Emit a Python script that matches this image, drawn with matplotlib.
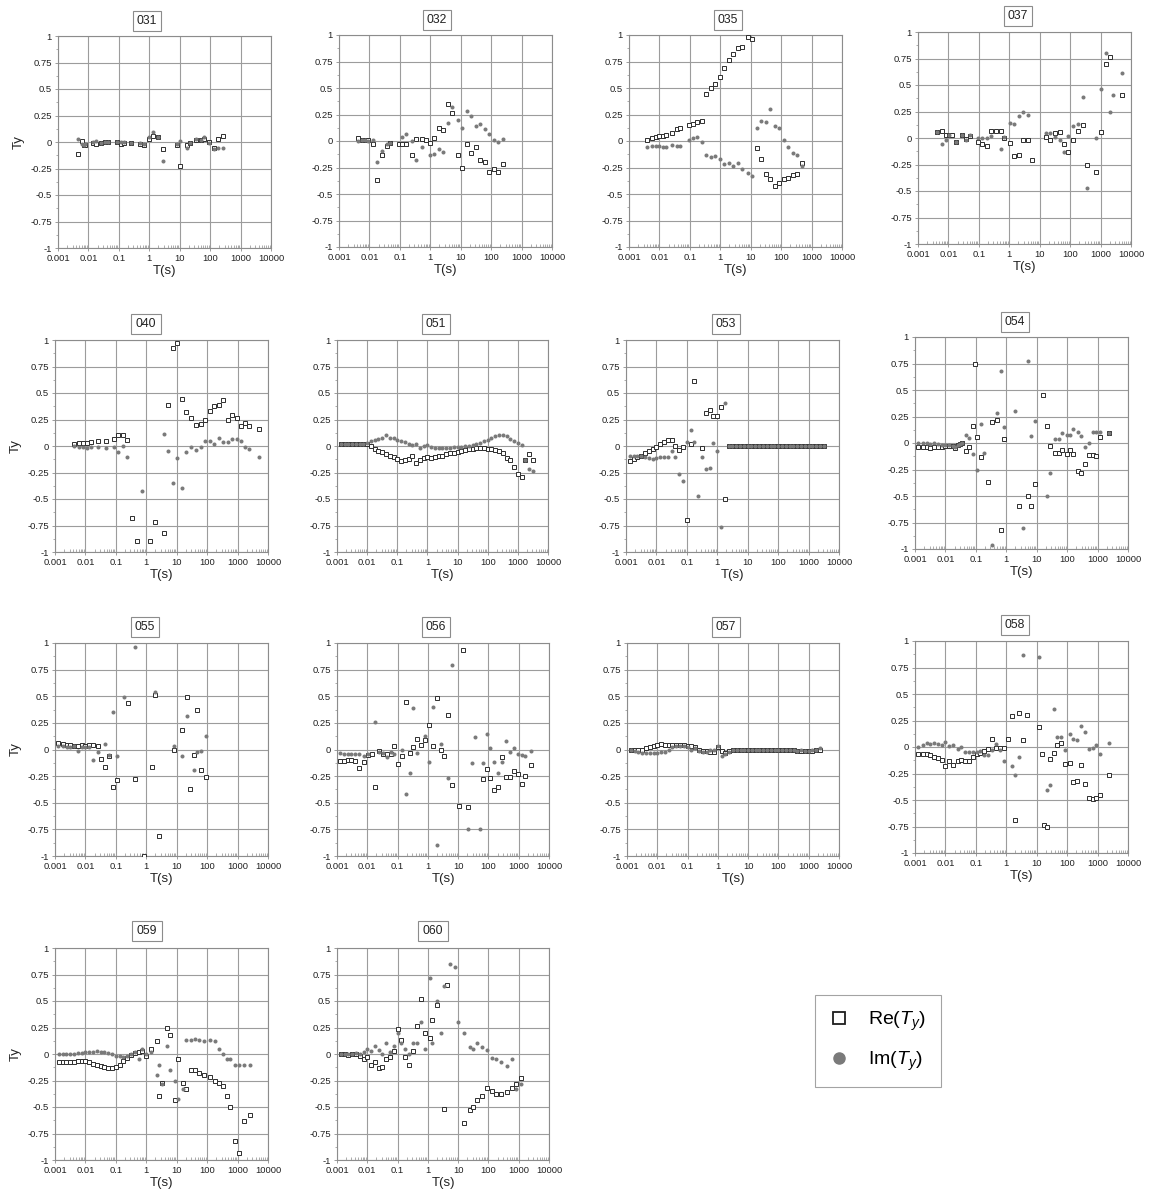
import numpy as np
import matplotlib
matplotlib.use('Agg')
import matplotlib.pyplot as plt
from matplotlib.lines import Line2D
from matplotlib.ticker import FixedLocator, LogLocator, NullFormatter, FuncFormatter

plt.rcParams['font.family'] = ['Liberation Sans', 'DejaVu Sans']
plt.rcParams['axes.unicode_minus'] = False
plt.rcParams['mathtext.fontset'] = 'custom'
plt.rcParams['mathtext.rm'] = 'Liberation Sans'
plt.rcParams['mathtext.it'] = 'Liberation Sans:italic'

nan = np.nan
W, H = 1151, 1196

# periods (s) used by the long-period stations, 8 per decade
T_DENSE = [0.00133, 0.00178, 0.00237, 0.00316, 0.00422, 0.00562, 0.0075,
           0.01, 0.0133, 0.0178, 0.0237, 0.0316, 0.0422, 0.0562, 0.075,
           0.1, 0.133, 0.178, 0.237, 0.316, 0.422, 0.562, 0.75,
           1.0, 1.33, 1.78, 2.37, 3.16, 4.22, 5.62, 7.5,
           10, 13.3, 17.8, 23.7, 31.6, 42.2, 56.2, 75,
           100, 133, 178, 237, 316, 422, 562, 750,
           1000, 1330, 1780, 2370, 3160]

# station 031
T031 = [0.0045, 0.006, 0.007, 0.008, 0.014, 0.018, 0.025, 0.035, 0.045, 0.09,
        0.12, 0.15, 0.25, 0.5, 0.65, 1.0, 1.3, 2.0, 2.8, 8,
        10.5, 17, 22, 35, 50, 65, 90, 130, 175, 260]
RE031 = [-0.11, 0.01, -0.03, -0.03, -0.01, -0.02, -0.01, 0.0, 0.0, 0.0,
         -0.02, -0.01, -0.01, -0.02, -0.03, 0.03, 0.06, 0.05, -0.07, -0.03,
         -0.23, -0.03, -0.01, 0.02, 0.02, 0.03, 0.0, -0.06, 0.03, 0.06]
IM031 = [0.03, -0.02, -0.03, -0.02, 0.0, 0.01, -0.01, 0.0, 0.0, 0.0,
         0.0, 0.0, -0.01, -0.01, -0.02, 0.05, 0.09, 0.05, -0.18, -0.02,
         0.01, -0.06, -0.01, 0.03, 0.02, 0.05, -0.01, -0.07, -0.06, -0.06]

# station 032
T032 = [0.0042, 0.0055, 0.007, 0.009, 0.013, 0.018, 0.026, 0.039, 0.047, 0.092,
        0.12, 0.16, 0.25, 0.34, 0.52, 0.7, 0.98, 1.33, 1.9, 2.7,
        3.9, 5.3, 7.9, 10.7, 15.7, 21, 31.5, 42, 63, 85,
        125, 170, 250]
RE032 = [0.03, 0.01, 0.01, 0.01, -0.03, -0.37, -0.13, -0.05, -0.02, -0.03,
         -0.03, -0.03, -0.13, 0.02, 0.02, 0.01, -0.02, 0.03, 0.12, 0.1,
         0.35, 0.26, -0.13, -0.25, -0.03, -0.11, -0.06, -0.18, -0.2, -0.29,
         -0.26, -0.29, -0.22]
IM032 = [0.0, 0.01, 0.01, 0.0, 0.01, -0.2, -0.09, -0.03, -0.02, nan,
         0.04, 0.07, 0.0, -0.18, -0.06, nan, -0.13, -0.12, -0.08, -0.1,
         0.17, 0.32, 0.2, 0.12, 0.28, 0.24, 0.14, 0.16, 0.11, 0.07,
         0.01, -0.01, 0.02]

# station 035
T035 = [0.004, 0.0055, 0.0075, 0.01, 0.013, 0.017, 0.025, 0.038, 0.047, 0.092,
        0.13, 0.17, 0.25, 0.34, 0.48, 0.67, 0.98, 1.3, 1.9, 2.7,
        3.9, 5.3, 7.9, 10.7, 15.7, 21, 31.5, 42, 63, 85,
        125, 170, 250, 330, 500]
RE035 = [0.01, 0.03, 0.04, 0.05, 0.05, 0.06, 0.08, 0.11, 0.12, 0.15,
         0.16, 0.18, 0.19, 0.44, 0.5, 0.54, 0.6, 0.69, 0.76, 0.82,
         0.88, 0.89, 0.98, 0.96, -0.07, -0.17, -0.31, -0.36, -0.42, -0.4,
         -0.36, -0.35, -0.32, -0.31, -0.21]
IM035 = [-0.06, -0.05, -0.05, -0.05, -0.06, -0.06, -0.04, -0.05, -0.05, 0.01,
         0.03, 0.04, -0.01, -0.13, -0.15, -0.14, -0.17, -0.22, -0.21, -0.24,
         -0.21, -0.26, -0.3, -0.33, 0.12, 0.19, 0.18, 0.3, 0.14, 0.12,
         0.01, -0.06, -0.11, -0.13, -0.24]

# station 037
T037 = [0.0042, 0.0062, 0.0086, 0.0105, 0.0135, 0.018, 0.027, 0.039, 0.05, 0.095,
        0.13, 0.18, 0.25, 0.36, 0.53, 0.68, 1.05, 1.4, 2.1, 2.75,
        4.0, 5.4, 15.7, 21.8, 33, 45, 65, 87, 125, 180,
        260, 370, 710, 1000, 1500, 2100, 2600, 5000]
RE037 = [0.06, 0.07, 0.03, 0.03, 0.03, -0.04, 0.03, -0.01, 0.02, -0.04,
         -0.06, -0.08, 0.07, 0.07, 0.07, 0.0, -0.05, -0.17, -0.16, -0.02,
         -0.02, -0.21, 0.01, -0.02, 0.05, 0.06, -0.06, -0.13, -0.02, 0.07,
         0.12, -0.25, -0.32, 0.06, 0.7, 0.76, nan, 0.41]
IM037 = [0.06, -0.06, -0.02, 0.03, nan, -0.04, 0.03, -0.02, 0.03, 0.0,
         0.0, 0.0, 0.02, nan, -0.1, 0.01, 0.14, 0.13, 0.21, 0.25,
         0.22, nan, 0.05, 0.05, 0.01, -0.02, -0.13, 0.02, 0.11, 0.13,
         0.39, -0.47, 0.0, 0.46, 0.8, 0.25, 0.41, 0.61]

# station 040
T040 = [0.0042, 0.0061, 0.0085, 0.011, 0.015, 0.025, 0.047, 0.086, 0.12, 0.167,
        0.24, 0.33, 0.48, 0.7, 1.3, 1.9, 3.7, 5.2, 7.7, 10.2,
        15, 20.5, 30, 42, 63, 87, 120, 165, 240, 330,
        500, 650, 950, 1300, 1800, 2350, 5000]
RE040 = [0.02, 0.03, 0.03, 0.03, 0.04, 0.05, 0.05, 0.07, 0.1, 0.1,
         0.06, -0.68, -0.9, nan, -0.9, -0.72, -0.82, 0.39, 0.92, 0.97,
         0.44, 0.32, 0.26, 0.2, 0.21, 0.25, 0.33, 0.38, 0.39, 0.43,
         0.25, 0.29, 0.26, 0.19, 0.22, 0.19, 0.16]
IM040 = [0.0, -0.01, -0.01, -0.02, -0.01, -0.01, -0.02, -0.01, -0.06, 0.0,
         -0.1, nan, nan, -0.42, nan, nan, 0.11, -0.05, -0.35, -0.11,
         -0.4, -0.06, -0.01, -0.04, -0.01, 0.05, 0.05, 0.02, 0.08, 0.04,
         0.04, 0.07, 0.07, 0.05, -0.01, -0.03, -0.1]

# station 051 (on T_DENSE)
RE051 = [0.02, 0.02, 0.02, 0.02, 0.02, 0.02, 0.02,
         0.02, 0.0, -0.03, -0.05, -0.06, -0.08, -0.09, -0.1,
         -0.12, -0.14, -0.13, -0.12, -0.09, -0.16, -0.13, -0.11,
         -0.1, -0.11, -0.1, -0.09, -0.09, -0.08, -0.07, -0.07,
         -0.06, -0.05, -0.04, -0.03, -0.03, -0.02, -0.02, -0.02,
         -0.03, -0.03, -0.04, -0.05, -0.07, -0.11, -0.13, -0.2,
         -0.26, -0.29, -0.13, -0.08, -0.13]
IM051 = [0.02, 0.02, 0.02, 0.02, 0.02, 0.02, 0.02,
         0.03, 0.05, 0.06, 0.07, 0.08, 0.1, 0.08, 0.08,
         0.06, 0.05, 0.04, 0.02, 0.01, 0.02, -0.02, 0.0,
         0.01, -0.01, -0.02, -0.02, -0.02, -0.02, -0.02, -0.01,
         -0.01, -0.01, 0.0, 0.0, 0.01, 0.02, 0.03, 0.05,
         0.06, 0.08, 0.09, 0.1, 0.1, 0.09, 0.07, 0.05,
         0.03, 0.01, -0.13, -0.22, -0.24]

# station 053 (on T_DENSE)
RE053 = [-0.14, -0.12, -0.1, -0.09, -0.07, -0.05, -0.03,
         -0.01, 0.02, 0.04, 0.06, 0.06, 0.0, -0.04, -0.01,
         -0.7, 0.02, 0.61, nan, -0.02, 0.31, 0.34, 0.28,
         0.28, 0.37, -0.5, 0.0, 0.0, 0.0, 0.0, 0.0,
         0.0, 0.0, 0.0, 0.0, 0.0, 0.0, 0.0, 0.0,
         0.0, 0.0, 0.0, 0.0, 0.0, 0.0, 0.0, 0.0,
         0.0, 0.0, 0.0, 0.0, 0.0]
IM053 = [-0.09, -0.09, -0.09, -0.09, -0.1, -0.11, -0.12,
         -0.11, -0.1, -0.1, -0.1, -0.05, -0.1, -0.26, -0.33,
         0.04, 0.15, 0.04, -0.47, -0.1, -0.22, -0.21, 0.03,
         -0.05, -0.76, 0.41, 0.0, 0.0, 0.0, 0.0, 0.0,
         0.0, 0.0, 0.0, 0.0, 0.0, 0.0, 0.0, 0.0,
         0.0, 0.0, 0.0, 0.0, 0.0, 0.0, 0.0, 0.0,
         0.0, 0.0, 0.0, 0.0, 0.0]

# station 054
T054 = [0.0013, 0.0018, 0.0024, 0.0032, 0.0042, 0.0057, 0.0075, 0.01, 0.0134, 0.0178,
        0.0205, 0.025, 0.03, 0.034, 0.047, 0.061, 0.082, 0.093, 0.11, 0.146,
        0.19, 0.26, 0.35, 0.48, 0.66, 0.85, 1.95, 2.6, 3.6, 5.0,
        6.7, 8.7, 15.5, 21, 28, 40, 55, 70, 100, 123,
        158, 230, 295, 380, 525, 710, 910, 1230, 2400]
RE054 = [-0.04, -0.04, -0.04, -0.05, -0.04, -0.04, -0.04, -0.03, -0.03, -0.03,
         -0.05, -0.02, -0.01, 0.0, -0.08, -0.04, 0.16, 0.75, 0.06, -0.13,
         nan, -0.37, 0.2, 0.22, -0.82, 0.04, nan, -0.59, nan, -0.5,
         -0.59, -0.39, 0.45, 0.16, -0.03, -0.09, -0.09, -0.07, -0.1, -0.07,
         -0.1, -0.26, -0.28, -0.2, -0.11, -0.11, -0.12, 0.06, 0.09]
IM054 = [0.0, 0.0, 0.0, -0.01, 0.0, -0.01, -0.02, -0.02, -0.02, -0.03,
         -0.04, -0.02, -0.01, 0.0, 0.08, 0.05, -0.1, nan, -0.25, 0.18,
         -0.09, nan, -0.96, 0.28, 0.68, 0.15, 0.3, nan, -0.8, 0.77,
         0.07, 0.21, nan, -0.5, -0.28, 0.04, 0.04, 0.09, 0.08, 0.08,
         0.13, 0.1, 0.07, -0.04, 0.0, 0.1, 0.1, 0.1, 0.09]

# station 055
T055 = [0.0013, 0.0018, 0.0024, 0.0032, 0.0042, 0.0057, 0.0075, 0.01, 0.0134, 0.018,
        0.025, 0.033, 0.044, 0.058, 0.08, 0.105, 0.19, 0.25, 0.44, 0.83,
        1.5, 1.95, 2.6, 8.1, 15, 21, 27, 36, 48, 65,
        90]
RE055 = [0.06, 0.05, 0.04, 0.04, 0.03, 0.03, 0.04, 0.03, 0.04, 0.04,
         0.03, -0.09, -0.16, -0.06, -0.35, -0.29, nan, 0.44, -0.28, -1.0,
         -0.16, 0.51, -0.81, 0.0, 0.18, 0.49, -0.37, -0.05, 0.37, -0.19,
         -0.26]
IM055 = [0.03, 0.03, 0.02, 0.02, 0.03, -0.01, 0.02, 0.02, 0.02, -0.1,
         -0.02, nan, 0.05, -0.05, 0.35, -0.06, 0.49, nan, 0.96, nan,
         nan, 0.54, nan, 0.03, -0.06, 0.31, nan, -0.19, -0.02, -0.01,
         0.13]

# station 056
T056 = [0.00122, 0.00166, 0.00224, 0.003, 0.004, 0.0054, 0.0075, 0.0102, 0.0139, 0.0183,
        0.0235, 0.032, 0.044, 0.06, 0.079, 0.102, 0.141, 0.186, 0.25, 0.33,
        0.45, 0.6, 0.81, 1.09, 1.45, 1.97, 2.65, 3.4, 4.7, 6.2,
        10.9, 14.7, 20.5, 27.8, 36, 52, 64, 87, 117, 155,
        212, 285, 375, 510, 690, 920, 1240, 1670, 2480]
RE056 = [-0.11, -0.11, -0.1, -0.1, -0.11, -0.17, -0.12, -0.05, -0.04, -0.35,
         -0.01, -0.04, -0.04, -0.04, 0.03, -0.14, -0.06, 0.45, -0.03, 0.02,
         0.1, 0.04, 0.09, 0.23, 0.03, 0.48, 0.0, -0.06, 0.32, -0.33,
         -0.53, 0.93, -0.54, nan, nan, nan, -0.28, -0.18, -0.27, -0.38,
         -0.35, -0.07, -0.26, -0.26, -0.2, -0.23, -0.32, -0.25, -0.15]
IM056 = [-0.03, -0.04, -0.04, -0.04, -0.04, -0.04, -0.06, -0.04, nan, 0.26,
         -0.02, -0.03, -0.07, -0.02, -0.04, nan, 0.0, -0.42, -0.22, 0.39,
         -0.03, nan, 0.13, -0.12, 0.4, -0.9, 0.05, nan, -0.27, 0.79,
         nan, nan, -0.75, -0.13, 0.12, -0.75, -0.13, 0.15, 0.01, -0.12,
         -0.22, -0.12, 0.08, -0.02, 0.01, -0.04, -0.05, -0.06, -0.01]

# station 057 (on T_DENSE)
RE057 = [0.0, 0.0, 0.0, 0.0, 0.01, 0.02, 0.03,
         0.04, 0.05, 0.04, 0.04, 0.04, 0.04, 0.04, 0.04,
         0.03, 0.03, 0.02, 0.0, -0.01, -0.01, -0.02, -0.02,
         0.02, -0.01, -0.03, -0.01, 0.0, 0.0, 0.0, 0.0,
         0.0, 0.0, 0.0, 0.0, 0.0, 0.0, 0.0, 0.0,
         0.0, 0.0, 0.0, 0.0, 0.0, -0.01, -0.01, -0.01,
         -0.01, -0.01, 0.0, 0.0, nan]
IM057 = [0.0, -0.01, -0.02, -0.03, -0.03, -0.03, -0.03,
         -0.03, -0.02, -0.02, 0.0, 0.02, 0.03, 0.03, 0.03,
         0.02, 0.0, 0.01, -0.01, -0.02, -0.02, 0.0, 0.0,
         0.03, -0.06, -0.04, -0.02, 0.0, 0.0, 0.0, 0.0,
         0.0, 0.0, 0.0, 0.0, 0.0, 0.0, 0.0, 0.0,
         0.0, 0.0, 0.0, 0.0, 0.0, -0.01, 0.0, -0.01,
         -0.01, 0.0, 0.0, 0.01, nan]

# station 058
T058 = [0.0013, 0.0018, 0.0024, 0.0032, 0.0042, 0.0057, 0.0075, 0.01, 0.0134, 0.018,
        0.025, 0.033, 0.044, 0.058, 0.08, 0.105, 0.142, 0.19, 0.26, 0.35,
        0.46, 0.62, 0.83, 1.16, 1.49, 1.97, 2.7, 3.6, 4.9, 11.7,
        14.5, 17, 21, 28, 37, 48, 65, 88, 120, 157,
        217, 290, 380, 525, 710, 910, 1230, 2400]
RE058 = [-0.07, -0.07, -0.07, -0.08, -0.09, -0.1, -0.12, -0.18, -0.13, -0.17,
         -0.13, -0.12, -0.13, -0.13, -0.09, -0.07, -0.06, -0.04, -0.02, 0.08,
         -0.01, -0.01, -0.01, 0.08, 0.29, -0.69, 0.32, 0.07, 0.3, 0.19,
         -0.07, -0.74, -0.75, -0.11, -0.06, 0.02, 0.04, -0.16, -0.15, -0.33,
         -0.32, -0.17, -0.35, -0.48, -0.49, -0.48, -0.45, -0.26]
IM058 = [0.0, 0.02, 0.04, 0.03, 0.04, 0.03, 0.02, 0.05, 0.01, 0.02,
         -0.02, 0.0, -0.05, -0.05, -0.05, -0.05, -0.04, -0.08, -0.08, -0.03,
         0.03, -0.03, -0.13, nan, -0.18, -0.26, -0.09, 0.87, nan, 0.85,
         nan, nan, -0.41, -0.36, 0.36, 0.09, 0.09, -0.03, 0.12, 0.08,
         0.07, 0.2, 0.14, -0.02, -0.01, 0.02, -0.07, 0.04]

# station 059
T059 = [0.00133, 0.00178, 0.00237, 0.00316, 0.00422, 0.00562, 0.0075,
        0.01, 0.0133, 0.0178, 0.0237, 0.0316, 0.0422, 0.0562, 0.075,
        0.1, 0.133, 0.178, 0.237, 0.316, 0.422, 0.562, 0.75,
        1.0, 1.4, 2.2, 2.6, 3.3, 4.8, 6.0, 8.8,
        11, 16, 20, 30, 40, 55, 80, 120,
        180, 250, 330, 450, 560, 800, 1100, 1600, 2500]
RE059 = [-0.08, -0.08, -0.08, -0.08, -0.08, -0.07, -0.07,
         -0.07, -0.08, -0.09, -0.1, -0.11, -0.12, -0.13, -0.13,
         -0.12, -0.1, -0.07, -0.04, -0.01, 0.01, 0.02, 0.03,
         -0.02, 0.05, 0.12, -0.4, -0.27, 0.25, 0.18, -0.43,
         -0.05, -0.27, -0.33, -0.15, -0.15, -0.18, -0.2, -0.22,
         -0.25, -0.27, -0.3, -0.4, -0.5, -0.82, -0.93, -0.63, -0.58]
IM059 = [0.0, 0.0, 0.0, 0.0, 0.0, 0.01, 0.01,
         0.02, 0.02, 0.02, 0.03, 0.02, 0.02, 0.01, 0.0,
         -0.02, -0.02, -0.03, -0.02, 0.0, 0.02, -0.05, 0.05,
         0.0, 0.02, -0.2, -0.1, -0.28, 0.08, -0.15, -0.25,
         -0.42, -0.33, 0.13, 0.13, 0.14, 0.13, 0.12, 0.13,
         0.12, 0.05, 0.0, -0.05, -0.05, -0.1, -0.1, -0.1, -0.1]

# station 060
T060 = [0.00133, 0.00178, 0.00237, 0.00316, 0.00422, 0.00562, 0.0075,
        0.01, 0.0133, 0.0178, 0.0237, 0.0316, 0.0422, 0.0562, 0.075,
        0.1, 0.133, 0.178, 0.237, 0.316, 0.45, 0.6, 0.8,
        1.17, 1.4, 2.0, 2.7, 3.4, 4.3, 5.5, 7.8,
        10, 16, 24, 30, 42, 60, 90, 130,
        180, 260, 400, 600, 800, 1200]
RE060 = [0.0, 0.0, -0.01, 0.0, 0.0, -0.02, -0.05,
         -0.03, -0.1, -0.08, -0.13, -0.12, -0.05, -0.03, 0.03,
         0.24, 0.13, -0.03, -0.1, 0.03, 0.26, 0.52, 0.2,
         0.15, 0.32, 0.46, nan, -0.52, 0.65, nan, nan,
         nan, -0.65, -0.53, -0.5, -0.43, -0.4, -0.32, -0.35,
         -0.38, -0.38, -0.36, -0.32, -0.28, -0.23]
IM060 = [0.0, 0.0, 0.0, 0.0, 0.01, 0.0, 0.02,
         0.05, 0.03, 0.08, 0.04, 0.0, 0.1, 0.02, 0.08,
         0.2, 0.1, 0.05, 0.0, 0.1, 0.1, 0.3, 0.05,
         0.72, 0.1, 0.5, 0.2, 0.64, nan, 0.85, 0.82,
         0.3, 0.2, 0.07, 0.05, 0.1, 0.07, 0.04, -0.04,
         -0.05, -0.08, -0.11, -0.05, -0.33, -0.28]

STATIONS = ['031', '032', '035', '037', '040', '051', '053',
            '054', '055', '056', '057', '058', '059', '060']
SERIES = {
    '031': (T031, RE031, IM031), '032': (T032, RE032, IM032),
    '035': (T035, RE035, IM035), '037': (T037, RE037, IM037),
    '040': (T040, RE040, IM040), '051': (T_DENSE, RE051, IM051),
    '053': (T_DENSE, RE053, IM053), '054': (T054, RE054, IM054),
    '055': (T055, RE055, IM055), '056': (T056, RE056, IM056),
    '057': (T_DENSE, RE057, IM057), '058': (T058, RE058, IM058),
    '059': (T059, RE059, IM059), '060': (T060, RE060, IM060),
}

# axes boxes in pixels: left, top, right, bottom ; title box centre x, y
LAYOUT = {
    '031': ((58, 36, 271, 248), (147, 21)),
    '032': ((339, 35, 552, 247), (437, 20)),
    '035': ((629, 35, 842, 247), (728, 20)),
    '037': ((918, 32, 1131, 244), (1018, 16)),
    '040': ((55, 340, 268, 552), (146, 324)),
    '051': ((337, 340, 548, 552), (436, 324)),
    '053': ((626, 340, 839, 552), (726, 324)),
    '054': ((915, 337, 1128, 549), (1015, 322)),
    '055': ((55, 643, 268, 856), (145, 627)),
    '056': ((337, 643, 549, 856), (436, 627)),
    '057': ((627, 643, 839, 856), (726, 627)),
    '058': ((915, 641, 1128, 853), (1015, 625)),
    '059': ((55, 948, 268, 1160), (147, 931)),
    '060': ((337, 948, 549, 1160), (433, 931)),
}
LEFT_COLUMN = ['031', '040', '055', '059']

GRID = '#9c9c9c'
SPINE = '#8c8c8c'
RE_EDGE = '#2e2e2e'
IM_FILL = '#7a7a7a'

fig = plt.figure(figsize=(W / 100, H / 100), dpi=100)

for name in STATIONS:
    (l, t, r, b), (tx, ty) = LAYOUT[name]
    ax = fig.add_axes([l / W, 1 - b / H, (r - l) / W, (b - t) / H])
    per, re, im = SERIES[name]
    per = np.array(per, dtype=float)

    ax.plot(per, np.array(re, dtype=float), ls='none', marker='s', ms=3.4,
            mfc='white', mec=RE_EDGE, mew=0.7, zorder=3)
    ax.plot(per, np.array(im, dtype=float), ls='none', marker='o', ms=2.9,
            mfc=IM_FILL, mec=IM_FILL, mew=0, zorder=4)

    ax.set_xscale('log')
    ax.set_xlim(1e-3, 1e4)
    ax.set_ylim(-1, 1)
    ax.xaxis.set_major_locator(FixedLocator([1e-3, 1e-2, 1e-1, 1, 10, 100, 1e3, 1e4]))
    ax.xaxis.set_major_formatter(FuncFormatter(lambda v, p: '%g' % v))
    ax.xaxis.set_minor_locator(LogLocator(base=10, subs=np.arange(2, 10), numticks=20))
    ax.xaxis.set_minor_formatter(NullFormatter())
    ax.yaxis.set_major_locator(FixedLocator(np.arange(-1, 1.01, 0.25)))
    ax.yaxis.set_major_formatter(FuncFormatter(lambda v, p: '%g' % round(v, 2)))
    ax.yaxis.set_minor_locator(FixedLocator(np.arange(-0.875, 0.9, 0.25)))

    ax.grid(True, which='major', color=GRID, lw=0.8)
    ax.set_axisbelow(True)
    for s in ax.spines.values():
        s.set_color(SPINE)
        s.set_linewidth(0.8)
    ax.tick_params(which='major', length=2.5, width=0.6, color=SPINE,
                   labelsize=6.8, pad=2, labelcolor='#222222')
    ax.tick_params(axis='x', which='minor', direction='in', length=2,
                   width=0.5, color=SPINE)
    ax.tick_params(axis='y', which='minor', direction='out', length=1.8,
                   width=0.5, color=SPINE)

    ax.set_xlabel('T(s)', fontsize=9.5, labelpad=1, color='#222222')
    if name in LEFT_COLUMN:
        ax.set_ylabel('Ty', fontsize=9.5, labelpad=4, color='#222222')

    fig.text(tx / W, 1 - ty / H, name, ha='center', va='center', fontsize=8.8,
             color='#222222',
             bbox=dict(boxstyle='square,pad=0.35', fc='white', ec='#8c8c8c', lw=0.8))

handles = [Line2D([], [], ls='none', marker='s', ms=8, mfc='white', mec='#1e1e1e', mew=1.3),
           Line2D([], [], ls='none', marker='o', ms=8, mfc=IM_FILL, mec=IM_FILL)]
leg = fig.legend(handles, [r'Re($T_y$)', r'Im($T_y$)'], loc='upper left',
                 bbox_to_anchor=(815 / W, 1 - 995 / H), frameon=True, fancybox=False,
                 fontsize=14, borderpad=0.75, labelspacing=0.85, handletextpad=1.0,
                 handlelength=1.0, borderaxespad=0)
leg.get_frame().set_edgecolor('#8c8c8c')
leg.get_frame().set_linewidth(0.8)

fig.savefig('out.png', dpi=100)
